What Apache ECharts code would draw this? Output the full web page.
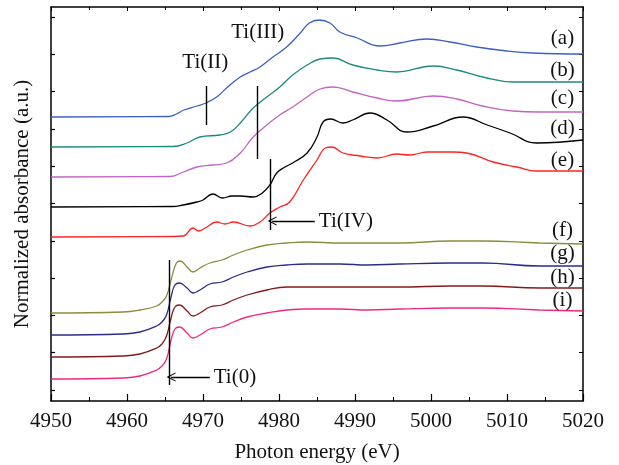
<!DOCTYPE html>
<html>
<head>
    <meta charset="utf-8">
    <title>Ti K-edge XANES</title>
    <style>
        body { margin: 0; background: #fff; }
    </style>
</head>
<body>
    <div id="main" style="width: 619px;height:465px;"></div>
</body>
<script src="https://cdn.jsdelivr.net/npm/echarts@6/dist/echarts.min.js"></script>
<script>
// spectra, [photon energy (eV), stacked absorbance (a.u.)]
var curveA = [[4950,284],[4965.5,284.5],[4966.5,287],[4967.5,291],[4969.2,295],[4970.4,298],[4971.8,304],[4973.1,313],[4974.9,324],[4976.2,329],[4977.5,334],[4979.2,344],[4981,354],[4982.8,368],[4984,378],[4985.3,381],[4986.7,378],[4988,369],[4990.3,363],[4993.3,355],[4995.9,358],[4999.5,362],[5002.5,359],[5006,354],[5010,350],[5013.4,348],[5020,347]];
var curveB = [[4950,254],[4966,254.5],[4967.9,258],[4969.6,264],[4972.2,266],[4973.6,269],[4974.9,278],[4976.6,293],[4978.4,304],[4980.1,314],[4981.8,326],[4983.7,336],[4985.4,342],[4987.1,343],[4989.7,336],[4992.9,331],[4995.5,329],[5000.3,335],[5003.4,331],[5006.8,324],[5010.8,319],[5014.3,319],[5020,319]];
var curveC = [[4950,224],[4965.7,224.5],[4967.4,229],[4969.2,234],[4971.3,236],[4973.1,238],[4974.9,248],[4976.6,264],[4978.4,276],[4980.1,286],[4981.8,294],[4983.7,304],[4985.4,312],[4987.1,314],[4989.7,309],[4992.9,303],[4995.5,300],[5000.3,305],[5003.4,302],[5006.8,295],[5010.8,290],[5014.3,289],[5020,289]];
var curveD = [[4950,194],[4966,194.5],[4967.4,196],[4969.2,199],[4970,201],[4971.3,207],[4972.6,203],[4973.8,205],[4974.9,205],[4976.6,204],[4977.8,208],[4978.8,216],[4979.7,228],[4980.8,234],[4981.8,238],[4983.7,248],[4985,264],[4985.8,279],[4986.8,282],[4988.4,278],[4989.7,281],[4992,288],[4994.2,281],[4996.8,269],[5000.3,275],[5004.2,284],[5007.4,276],[5010.4,268],[5013.9,258],[5020,261]];
var curveE = [[4950,164],[4966,164.5],[4967.4,165],[4968.7,173],[4969.4,170],[4970.3,173],[4971.8,179],[4972.9,177],[4974,179],[4976.2,175],[4977.5,179],[4978.8,188],[4980.1,194],[4981.4,199],[4983.2,221],[4985,241],[4986.1,253],[4987,254],[4988.4,248],[4990.7,245],[4992.9,243],[4995.5,247],[4997.2,246],[4999.5,249],[5002.9,249],[5004.7,248],[5008.2,239],[5011.3,234],[5013.9,230],[5020,230]];
var curveF = [[4950,88],[4959.5,89],[4961.7,91],[4963.9,95],[4964.6,99],[4965.2,105],[4965.9,124],[4966.5,138],[4967,140],[4967.9,134],[4968.7,129],[4969.6,133],[4970.9,138],[4972.5,141],[4974,146],[4975.8,151],[4978.4,156],[4981,158],[4983.7,159],[4988,158],[4991.6,158],[4995.9,158],[5002.5,160],[5006.8,160],[5014.3,158],[5020,157]];
var curveG = [[4950,66],[4959.5,67],[4961.7,69],[4963.9,75],[4964.6,79],[4965.2,86],[4965.8,104],[4966.3,116],[4966.9,118],[4967.9,113],[4968.7,108],[4969.6,111],[4970.9,117],[4972.5,119],[4974,124],[4975.8,129],[4978.4,134],[4981,136],[4983.7,137],[4988,137],[4991.6,136],[4995.9,137],[5002.5,138],[5006.8,138],[5014.3,135],[5020,135]];
var curveH = [[4950,44],[4959.5,45],[4961.7,47],[4963.9,53],[4964.6,57],[4965.2,65],[4965.8,83],[4966.3,94],[4966.9,96],[4967.9,90],[4968.7,85],[4969.6,88],[4970.9,94],[4972.5,96],[4974,101],[4975.8,106],[4978.4,111],[4981,114],[4983.7,114],[4988,114],[4991.6,114],[4995.9,114],[5002.5,115],[5006.8,115],[5014.3,113],[5020,113]];
var curveI = [[4950,22],[4959.5,23],[4961.7,25],[4963.9,31],[4964.6,35],[4965.2,42],[4965.8,61],[4966.3,72],[4966.9,74],[4967.9,68],[4968.7,63],[4969.6,66],[4970.9,72],[4972.5,74],[4974,79],[4975.8,84],[4978.4,88],[4981,91],[4983.7,92],[4988,92],[4991.6,91],[4995.9,92],[5002.5,93],[5006.8,93],[5014.3,91],[5020,90]];

var curveNames = ['(a)','(b)','(c)','(d)','(e)','(f)','(g)','(h)','(i)'];
var curveColors = ['#3c5fc4','#1b8a82','#c164c4','#000000','#ff2222','#8c8c3e','#2c2c86','#821c1c','#f0287e'];
var curveLabelY = [363, 331, 303, 273, 241, 171, 148, 124, 101];
var labelX = 5017.3;

// oxidation state markers: [energy, y from, y to]
var markTiII = [4970.4, 276, 315];
var markTiIII = [4977.2, 242, 315];
var markTiIV = [4978.8, 171, 242];
var markTi0 = [4965.5, 16, 141];
var yTicks = [11, 48.3, 85.6, 122.9, 160.2, 197.5, 234.8, 272.1, 309.4, 346.7, 384];

var allCurves = [curveA, curveB, curveC, curveD, curveE, curveF, curveG, curveH, curveI];
var font = 'Liberation Serif';
var fs = 21;

var myChart = echarts.init(document.getElementById('main'));

var series = [];
allCurves.forEach(function (c, i) {
    series.push({
        name: curveNames[i],
        type: 'line',
        data: c,
        smooth: 0.45,
        showSymbol: false,
        lineStyle: { color: curveColors[i], width: 1.3 },
        itemStyle: { color: curveColors[i] },
        z: 3,
        markPoint: {
            silent: true,
            symbol: 'circle',
            symbolSize: 0,
            label: {
                show: true, position: 'inside', color: '#111',
                fontFamily: font, fontSize: fs,
                formatter: curveNames[i]
            },
            data: [{ coord: [labelX, curveLabelY[i]] }]
        }
    });
});

function vline(m) {
    return [{ coord: [m[0], m[1]] }, { coord: [m[0], m[2]] }];
}
var chevron = 'path://M6,0L12,10L10.6,10L6,2.6L1.4,10L0,10Z';

// annotation series: marker lines, arrows and Ti labels
series.push({
    type: 'line',
    data: [],
    silent: true,
    markLine: {
        silent: true,
        symbol: 'none',
        animation: false,
        label: { show: false },
        lineStyle: { color: '#000', width: 1.4, type: 'solid' },
        data: [vline(markTiII), vline(markTiIII), vline(markTiIV), vline(markTi0),
            [{ coord: [4984.7, 180], symbol: 'none' }, { coord: [4979.1, 180], symbol: chevron, symbolSize: [9, 9] }],
            [{ coord: [4970.9, 24], symbol: 'none' }, { coord: [4965.8, 24], symbol: chevron, symbolSize: [9, 9] }]
        ]
    },
    markPoint: {
        silent: true,
        symbol: 'circle',
        symbolSize: 0,
        label: { show: true, position: 'inside', color: '#111', fontFamily: font, fontSize: fs },
        data: [
            { coord: [4970.3, 339], label: { formatter: 'Ti(II)' } },
            { coord: [4977.2, 369], label: { formatter: 'Ti(III)' } },
            { coord: [4988.8, 180], label: { formatter: 'Ti(IV)' } },
            { coord: [4974.2, 24], label: { formatter: 'Ti(0)' } }
        ]
    }
});

var frameLine = { show: true, onZero: false, lineStyle: { color: '#000', width: 1.5 } };

myChart.setOption({
    animation: false,
    backgroundColor: '#fff',
    grid: { left: 51, right: 36, top: 7, bottom: 64, outerBoundsMode: 'none' },
    xAxis: [{
        type: 'value',
        min: 4950, max: 5020, interval: 10,
        name: 'Photon energy (eV)',
        nameLocation: 'middle',
        nameGap: 41,
        nameTextStyle: { fontFamily: font, fontSize: fs, color: '#111' },
        axisLine: frameLine,
        axisTick: { show: true, inside: true, length: 7, lineStyle: { color: '#000', width: 1.2 } },
        minorTick: { show: true, splitNumber: 2, length: 4, lineStyle: { color: '#000', width: 1 } },
        axisLabel: { fontFamily: font, fontSize: fs, color: '#111', margin: 10, formatter: function (v) { return String(v); } },
        splitLine: { show: false }
    }, {
        type: 'value', position: 'top',
        min: 4950, max: 5020, interval: 10,
        axisLine: frameLine,
        axisTick: { show: true, inside: true, length: 4, lineStyle: { color: '#000', width: 1 } },
        minorTick: { show: true, splitNumber: 2, length: 3, lineStyle: { color: '#000', width: 1 } },
        axisLabel: { show: false },
        splitLine: { show: false }
    }],
    yAxis: [{
        type: 'value',
        min: 0, max: 394,
        name: 'Normalized absorbance (a.u.)',
        nameLocation: 'middle',
        nameGap: 18,
        nameTextStyle: { fontFamily: font, fontSize: fs, color: '#111' },
        axisLine: frameLine,
        axisTick: { show: true, inside: true, length: 4, customValues: yTicks, lineStyle: { color: '#000', width: 1.2 } },
        axisLabel: { show: false },
        splitLine: { show: false }
    }, {
        type: 'value', position: 'right',
        min: 0, max: 394,
        axisLine: frameLine,
        axisTick: { show: true, inside: true, length: 4, customValues: yTicks, lineStyle: { color: '#000', width: 1 } },
        axisLabel: { show: false },
        splitLine: { show: false }
    }],
    series: series
});
</script>
</html>
